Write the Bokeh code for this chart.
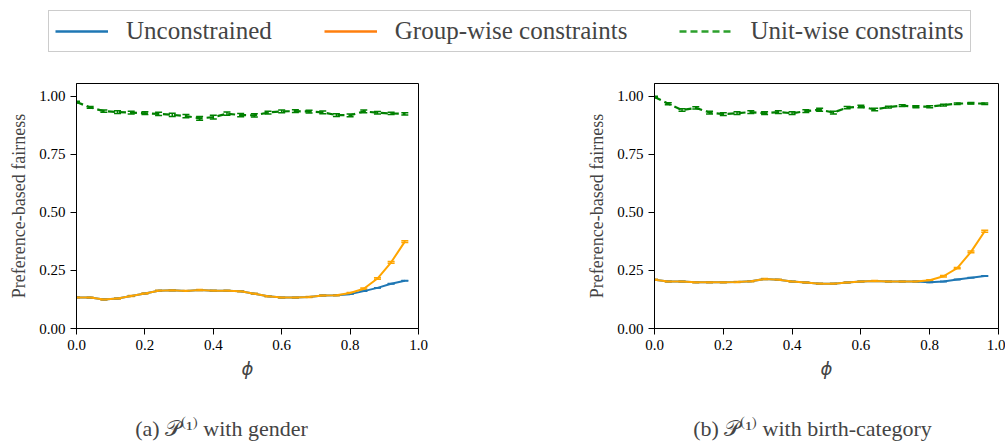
from bokeh.plotting import figure
from bokeh.layouts import column, row
from bokeh.models import (Legend, LegendItem, Whisker, ColumnDataSource, TeeHead,
                          FixedTicker, Range1d, PrintfTickFormatter)
from bokeh.embed import file_html
from bokeh.resources import INLINE

# ---------------- data ----------------
phi = [0.00, 0.04, 0.08, 0.12, 0.16, 0.20, 0.24, 0.28, 0.32, 0.36, 0.40, 0.44, 0.48,
       0.52, 0.56, 0.60, 0.64, 0.68, 0.72, 0.76, 0.80, 0.84, 0.88, 0.92, 0.96]

# (a) gender
unit_gender = [0.975, 0.952, 0.936, 0.932, 0.930, 0.927, 0.924, 0.920, 0.915, 0.905, 0.910, 0.925, 0.919,
               0.918, 0.930, 0.935, 0.936, 0.934, 0.931, 0.919, 0.918, 0.935, 0.929, 0.926, 0.924]
unit_gender_err = [0.004, 0.004, 0.005, 0.006, 0.006, 0.006, 0.007, 0.007, 0.007, 0.008, 0.008, 0.007, 0.007,
                   0.007, 0.006, 0.006, 0.006, 0.006, 0.006, 0.006, 0.006, 0.006, 0.005, 0.005, 0.005]
group_gender = [0.134, 0.133, 0.125, 0.129, 0.140, 0.151, 0.163, 0.165, 0.162, 0.166, 0.163, 0.163, 0.160,
                0.150, 0.139, 0.133, 0.133, 0.136, 0.142, 0.143, 0.153, 0.171, 0.215, 0.285, 0.374]
group_gender_err = [0.002, 0.002, 0.002, 0.002, 0.002, 0.002, 0.002, 0.002, 0.002, 0.002, 0.002, 0.002, 0.002,
                    0.002, 0.002, 0.002, 0.002, 0.002, 0.002, 0.002, 0.002, 0.003, 0.003, 0.004, 0.004]
uncon_gender = [0.134, 0.133, 0.125, 0.129, 0.140, 0.151, 0.163, 0.165, 0.162, 0.166, 0.163, 0.163, 0.160,
                0.150, 0.139, 0.133, 0.133, 0.136, 0.142, 0.143, 0.148, 0.161, 0.175, 0.193, 0.206]
uncon_gender_err = [0.001] * 25

# (b) birth-category
unit_birth = [0.997, 0.968, 0.941, 0.950, 0.930, 0.923, 0.927, 0.932, 0.927, 0.932, 0.927, 0.936, 0.942,
              0.930, 0.951, 0.956, 0.943, 0.953, 0.960, 0.955, 0.955, 0.962, 0.968, 0.970, 0.968]
unit_birth_err = [0.003, 0.004, 0.005, 0.005, 0.006, 0.006, 0.006, 0.006, 0.006, 0.006, 0.006, 0.006, 0.006,
                  0.006, 0.005, 0.005, 0.005, 0.004, 0.004, 0.004, 0.004, 0.004, 0.003, 0.003, 0.003]
group_birth = [0.210, 0.202, 0.202, 0.199, 0.199, 0.199, 0.200, 0.203, 0.213, 0.210, 0.202, 0.198, 0.193,
               0.193, 0.198, 0.202, 0.205, 0.202, 0.202, 0.202, 0.208, 0.225, 0.260, 0.330, 0.419]
group_birth_err = [0.002, 0.002, 0.002, 0.002, 0.002, 0.002, 0.002, 0.002, 0.002, 0.002, 0.002, 0.002, 0.002,
                   0.002, 0.002, 0.002, 0.002, 0.002, 0.002, 0.002, 0.002, 0.003, 0.003, 0.004, 0.004]
uncon_birth = [0.210, 0.202, 0.202, 0.199, 0.199, 0.199, 0.200, 0.203, 0.213, 0.210, 0.202, 0.198, 0.193,
               0.193, 0.198, 0.202, 0.205, 0.202, 0.202, 0.202, 0.199, 0.202, 0.211, 0.219, 0.226]
uncon_birth_err = [0.001] * 25

series_names = ["Unconstrained", "Group-wise constraints", "Unit-wise constraints"]
x_ticks = [0.0, 0.2, 0.4, 0.6, 0.8, 1.0]
y_ticks = [0.0, 0.25, 0.5, 0.75, 1.0]
captions = ["(a) \U0001D4AB\u207D\u00B9\u207E with gender", "(b) \U0001D4AB\u207D\u00B9\u207E with birth-category"]

# ---------------- style ----------------
SERIF = "Liberation Serif"
BLUE = "#1f77b4"
ORANGE = "#ffa500"
GREEN = "#008000"


def add_series(p, y, err, color, dash, lw):
    lo = [a - b for a, b in zip(y, err)]
    hi = [a + b for a, b in zip(y, err)]
    src = ColumnDataSource(dict(x=phi, y=y, lo=lo, hi=hi))
    w = Whisker(base="x", lower="lo", upper="hi", source=src, line_color=color, line_width=1.5,
                upper_head=TeeHead(size=7, line_color=color, line_width=1.5),
                lower_head=TeeHead(size=7, line_color=color, line_width=1.5))
    p.add_layout(w)
    p.line("x", "y", source=src, line_color=color, line_width=lw, line_dash=dash)


def panel(uncon, uncon_err, group, group_err, unit, unit_err, width, bl, br):
    p = figure(width=width, height=337, x_range=Range1d(0, 1), y_range=Range1d(0, 1.055),
               output_backend="svg", toolbar_location=None,
               min_border_left=bl, min_border_right=br, min_border_top=25, min_border_bottom=67)
    p.grid.visible = False
    p.outline_line_color = "black"
    p.outline_line_width = 1
    p.background_fill_color = "white"
    p.border_fill_color = "white"
    add_series(p, uncon, uncon_err, BLUE, "solid", 2)
    add_series(p, group, group_err, ORANGE, "solid", 2)
    add_series(p, unit, unit_err, GREEN, "7 4", 2.2)

    p.xaxis.ticker = FixedTicker(ticks=x_ticks)
    p.yaxis.ticker = FixedTicker(ticks=y_ticks)
    p.xaxis.formatter = PrintfTickFormatter(format="%.1f")
    p.yaxis.formatter = PrintfTickFormatter(format="%.2f")
    p.axis.axis_line_color = "black"
    p.axis.major_tick_line_color = "black"
    p.axis.major_tick_out = 6
    p.axis.major_tick_in = 0
    p.axis.minor_tick_out = 0
    p.axis.minor_tick_in = 0
    p.axis.major_label_text_font = SERIF
    p.axis.major_label_text_font_size = "15px"
    p.axis.major_label_text_color = "black"
    p.axis.major_label_standoff = 5
    p.xaxis.axis_label = "\u03D5"
    p.xaxis.axis_label_text_font = "DejaVu Sans"
    p.xaxis.axis_label_text_font_style = "italic"
    p.xaxis.axis_label_text_font_size = "18px"
    p.xaxis.axis_label_standoff = 5
    p.yaxis.axis_label = "Preference-based fairness"
    p.yaxis.axis_label_text_font = SERIF
    p.yaxis.axis_label_text_font_style = "normal"
    p.yaxis.axis_label_text_font_size = "18px"
    p.yaxis.axis_label_standoff = 7
    return p


pa = panel(uncon_gender, uncon_gender_err, group_gender, group_gender_err, unit_gender, unit_gender_err,
           548, 76, 130)
pb = panel(uncon_birth, uncon_birth_err, group_birth, group_birth_err, unit_birth, unit_birth_err,
           457, 106, 7)

# ---------------- legend strip ----------------
lg = figure(width=1005, height=58, x_range=Range1d(0, 1), y_range=Range1d(0, 1),
            x_axis_location=None, y_axis_location=None, output_backend="svg",
            toolbar_location=None, min_border=0, outline_line_color=None)
lg.grid.visible = False
# proxy renderers placed outside the visible range, only used for legend glyphs
r1 = lg.line([5, 6], [5, 6], line_color="#1f77b4", line_width=2.5)
r2 = lg.line([5, 6], [5, 6], line_color="#ff7f0e", line_width=2.5)
r3 = lg.line([5, 6], [5, 6], line_color="#2ca02c", line_width=2.5, line_dash="7 4")
legend = Legend(items=[LegendItem(label=series_names[0], renderers=[r1]),
                       LegendItem(label=series_names[1], renderers=[r2]),
                       LegendItem(label=series_names[2], renderers=[r3])],
                orientation="horizontal", location=(48, 6),
                glyph_width=53, glyph_height=20, label_standoff=18, spacing=52,
                padding=6, margin=0, label_height=28,
                label_text_font=SERIF, label_text_font_size="25px",
                border_line_color="#cccccc", border_line_width=1, border_line_alpha=1)
lg.add_layout(legend)

# ---------------- captions ----------------
def caption(text, width, bl, br):
    c = figure(width=width, height=50, x_range=Range1d(0, 1), y_range=Range1d(0, 1),
               x_axis_location=None, y_axis_location=None, output_backend="svg",
               toolbar_location=None, min_border_left=bl, min_border_right=br,
               min_border_top=0, min_border_bottom=0, outline_line_color=None,
               title=text, title_location="below")
    c.grid.visible = False
    c.title.align = "center"
    c.title.text_font = SERIF
    c.title.text_font_size = "22px"
    c.title.text_font_style = "normal"
    return c


ca = caption(captions[0], 548, 0, 106)
cb = caption(captions[1], 457, 71, 0)

layout = column(lg, row(pa, pb), row(ca, cb), spacing=0)

open("out.html", "w").write(file_html(layout, INLINE))
